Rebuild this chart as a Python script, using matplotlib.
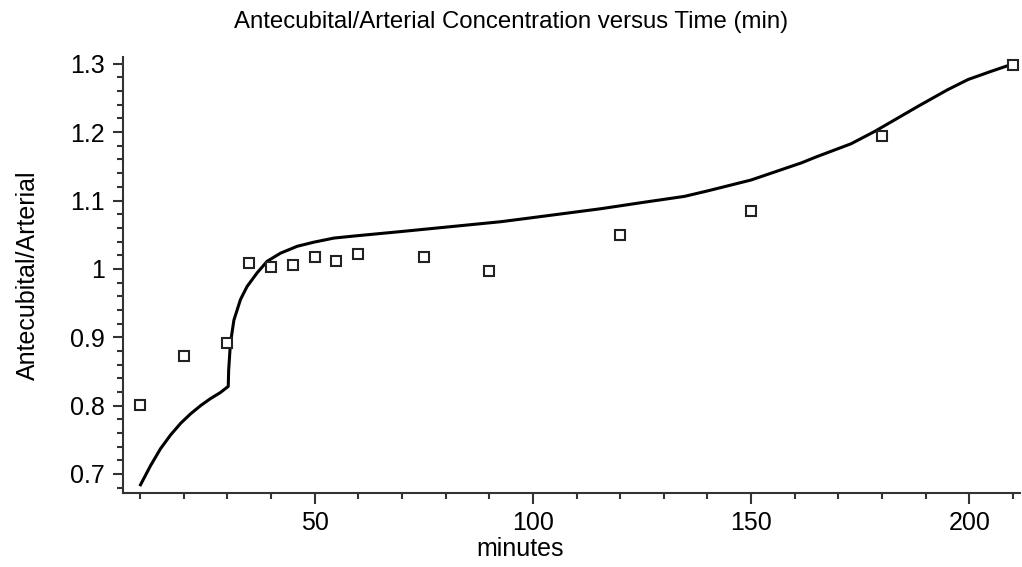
import numpy as np
import matplotlib
matplotlib.use('Agg')
import matplotlib.pyplot as plt
from matplotlib.ticker import MultipleLocator, FuncFormatter

# measured data (minutes, antecubital/arterial ratio)
t_obs = [10, 20, 30, 35, 40, 45, 50, 55, 60, 75, 90, 120, 150, 180, 210]
r_obs = [0.801, 0.873, 0.891, 1.009, 1.002, 1.006, 1.018, 1.012, 1.022,
         1.018, 0.997, 1.050, 1.084, 1.195, 1.298]

# model curve
t_fit = [10.1, 12.4, 14.7, 17.0, 19.3, 21.6, 23.9, 26.1, 28.4, 30.2, 30.3,
         30.7, 31.5, 33.0, 34.5, 36.8, 39.1, 42.2, 46.0, 49.8, 54.4, 59.0,
         70.5, 80, 92.7, 100, 115.6, 125, 134.7, 140, 150, 161.5, 165, 172.9,
         178.3, 188.3, 195, 199.7, 205, 209.6]
r_fit = [0.684, 0.712, 0.737, 0.757, 0.774, 0.788, 0.800, 0.810, 0.819, 0.828, 0.852,
         0.891, 0.925, 0.955, 0.974, 0.994, 1.011, 1.023, 1.033, 1.039, 1.045, 1.048,
         1.055, 1.061, 1.069, 1.075, 1.088, 1.097, 1.106, 1.114, 1.130, 1.155, 1.164, 1.183,
         1.201, 1.238, 1.262, 1.277, 1.289, 1.299]

plt.rcParams['font.family'] = ['Liberation Sans', 'DejaVu Sans']

fig = plt.figure(figsize=(10.22, 5.67), dpi=100)
ax = fig.add_axes([0.1204, 0.1305, 0.8776, 0.769])

ax.plot(t_fit, r_fit, color='black', linewidth=2.2, solid_joinstyle='round')
ax.plot(t_obs, r_obs, linestyle='none', marker='s', markersize=7,
        markerfacecolor='white', markeredgecolor='#222222', markeredgewidth=1.5)

ax.set_xlim(6.1, 211.6)
ax.set_ylim(0.672, 1.31)

for side in ['top', 'right']:
    ax.spines[side].set_visible(False)
for side in ['left', 'bottom']:
    ax.spines[side].set_linewidth(1.5)
    ax.spines[side].set_color('#333333')

ax.xaxis.set_major_locator(MultipleLocator(50))
ax.xaxis.set_minor_locator(MultipleLocator(10))
ax.yaxis.set_major_locator(MultipleLocator(0.1))
ax.yaxis.set_minor_locator(MultipleLocator(0.02))
ax.yaxis.set_major_formatter(FuncFormatter(lambda v, p: '%g' % round(v, 2)))

ax.tick_params(axis='both', which='major', labelsize=18, color='#333333', width=1.5)
ax.tick_params(axis='x', which='major', length=8, pad=5)
ax.tick_params(axis='x', which='minor', length=4, width=1.5, color='#333333')
ax.tick_params(axis='y', which='major', length=7, pad=6)
ax.tick_params(axis='y', which='minor', length=4, width=1.5, color='#333333')

ax.set_xlabel('minutes', fontsize=18, va='top')
ax.xaxis.set_label_coords(0.443, -0.10)
ax.set_ylabel('Antecubital/Arterial', fontsize=18)
ax.yaxis.set_label_coords(-0.0925, 0.5)
fig.text(0.5, 0.962, 'Antecubital/Arterial Concentration versus Time (min)',
         ha='center', va='center', fontsize=17.3)

fig.savefig('out.png', dpi=100)
